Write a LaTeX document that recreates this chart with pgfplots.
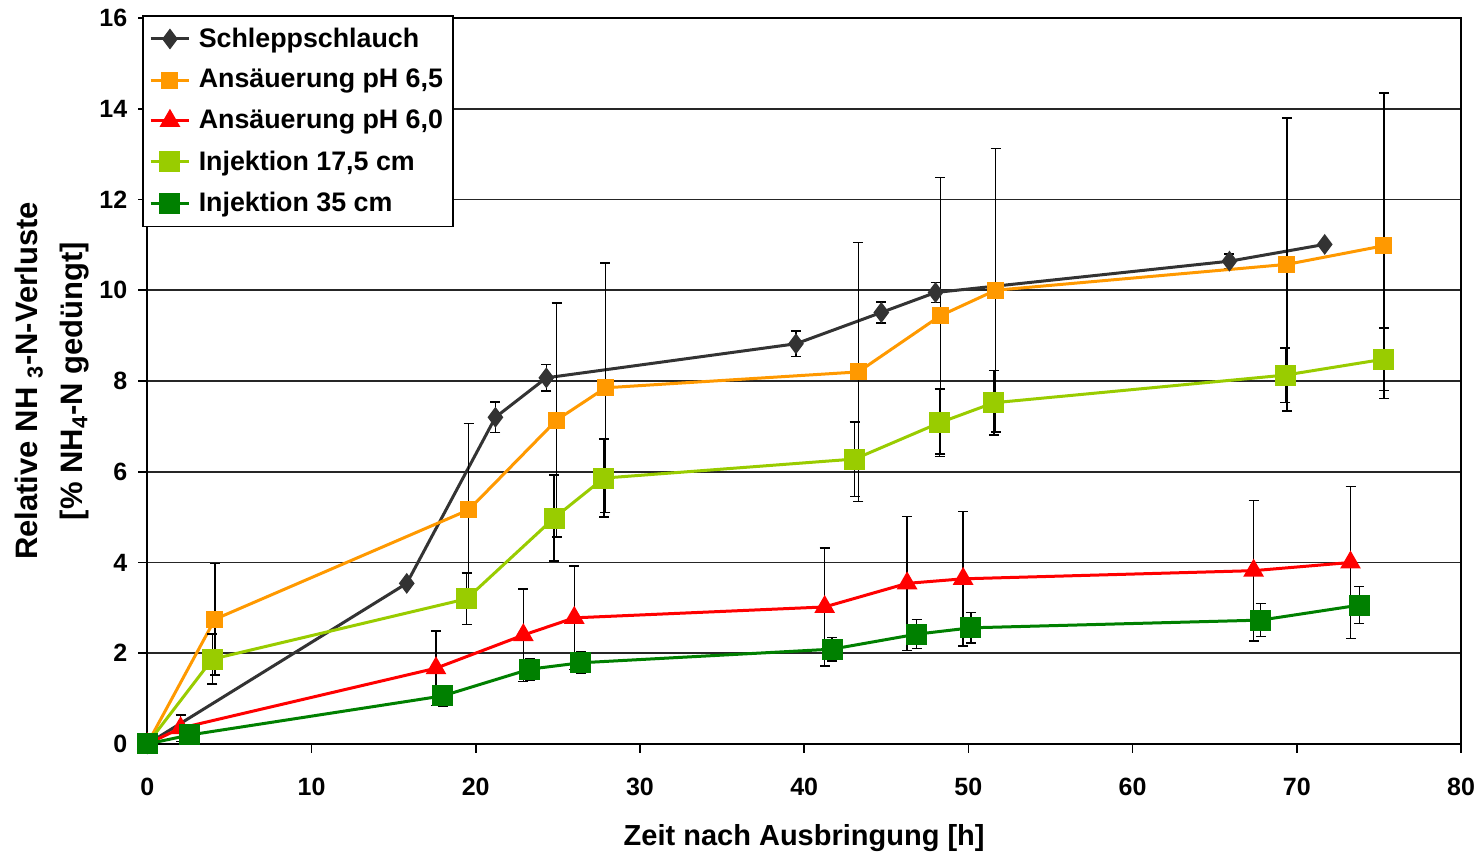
\documentclass[border=0pt]{standalone}
\usepackage{fontspec}
\setmainfont{Liberation Sans}
\usepackage{pgfplots}
\usepackage{pgfplotstable}
\pgfplotsset{compat=1.18}
\usetikzlibrary{calc}
\definecolor{cSchlepp}{HTML}{333333}
\definecolor{cOrange}{HTML}{FF9900}
\definecolor{cRed}{HTML}{FF0000}
\definecolor{cLight}{HTML}{99CC00}
\definecolor{cDark}{HTML}{008000}

\pgfplotstableread{
x y e
0 0 0
15.8 3.54 0
21.2 7.2 0.34
24.3 8.07 0.29
39.5 8.82 0.28
44.7 9.51 0.23
48.0 9.95 0.22
65.9 10.64 0.16
71.7 11.01 0.04
}\schlepp

\pgfplotstableread{
x y e
0 0 0
4.12 2.75 1.23
19.57 5.16 1.9
24.93 7.14 2.58
27.9 7.85 2.75
43.3 8.2 2.85
48.3 9.44 3.05
51.66 10.0 3.12
69.4 10.57 3.23
75.3 10.98 3.37
}\orange

\pgfplotstableread{
x y e
0 0 0
2.03 0.35 0.29
17.58 1.67 0.82
22.9 2.4 1.02
26.0 2.78 1.14
41.25 3.02 1.3
46.27 3.54 1.48
49.68 3.64 1.48
67.37 3.82 1.55
73.27 4.0 1.68
}\red

\pgfplotstableread{
x y e
0 0 0
3.96 1.87 0.55
19.45 3.2 0.57
24.77 4.98 0.95
27.8 5.86 0.86
43.08 6.28 0.82
48.25 7.08 0.74
51.55 7.52 0.71
69.3 8.13 0.6
75.3 8.48 0.69
}\light

\pgfplotstableread{
x y e
0 0 0
2.6 0.2 0
17.99 1.06 0.22
23.3 1.65 0.24
26.4 1.79 0.24
41.7 2.09 0.26
46.85 2.42 0.32
50.15 2.56 0.335
67.8 2.73 0.36
73.8 3.06 0.41
}\dark

\begin{document}
\begin{tikzpicture}
\begin{axis}[
  scale only axis,
  width=656.85pt, height=363pt,
  xmin=0, xmax=80, ymin=0, ymax=16,
  xtick={0,10,...,80}, ytick={0,2,...,16},
  axis line style={black, line width=1pt},
  tick align=outside,
  major tick length=4.5pt,
  tick style={black, line width=0.8pt},
  xtick pos=lower, ytick pos=left,
  ymajorgrids,
  grid style={black!85, line width=0.8pt},
  clip=false,
  /pgf/number format/assume math mode=true,
  ticklabel style={font=\fontsize{12.5}{15}\selectfont\bfseries},
  xticklabel style={anchor=base, yshift=-21.5pt},
  yticklabel style={anchor=east, xshift=-2pt},
  xlabel={Zeit nach Ausbringung [h]},
  ylabel={Relative NH \textsubscript{3}-N-Verluste\\{[}\% NH\textsubscript{4}-N gedüngt{]}},
  xlabel style={at={(axis description cs:0.5,-0.1405)}, anchor=base, font=\fontsize{14.5}{18}\selectfont\bfseries},
  ylabel style={at={(axis description cs:-0.039,0.5)}, anchor=south, align=center, font=\fontsize{15.5}{22.5}\selectfont\bfseries},
  legend style={at={(axis description cs:0,1)}, anchor=north west, xshift=-2.5pt, yshift=1.5pt,
    draw=black, line width=0.8pt, fill=white,
    font=\fontsize{13.4}{16}\selectfont\bfseries,
    row sep=5.5pt, inner xsep=3pt, inner ysep=4pt,
    /tikz/every odd column/.append style={column sep=2pt}},
  legend cell align=left,
  legend image code/.code={\draw[mark repeat=2, mark phase=2, #1] plot coordinates {(0cm,0cm) (0.34cm,0cm) (0.68cm,0cm)};},
  every axis plot/.append style={line width=1.5pt},
  error bars/error bar style={black, line width=0.7pt, solid},
  error bars/error mark options={rotate=90, mark size=2.5pt, black, line width=0.7pt, solid},
]
\addplot[cSchlepp, mark=diamond*, mark size=4pt, mark options={fill=cSchlepp},
  error bars/.cd, y dir=both, y explicit] table[x=x, y=y, y error=e] {\schlepp};
\addlegendentry{Schleppschlauch}
\addplot[cOrange, mark=square*, mark size=3.5pt, mark options={fill=cOrange},
  error bars/.cd, y dir=both, y explicit] table[x=x, y=y, y error=e] {\orange};
\addlegendentry{Ansäuerung pH 6,5}
\addplot[cRed, mark=triangle*, mark size=4.5pt, mark options={fill=cRed},
  error bars/.cd, y dir=both, y explicit] table[x=x, y=y, y error=e] {\red};
\addlegendentry{Ansäuerung pH 6,0}
\addplot[cLight, mark=square*, mark size=4.5pt, mark options={fill=cLight},
  error bars/.cd, y dir=both, y explicit] table[x=x, y=y, y error=e] {\light};
\addlegendentry{Injektion 17,5 cm}
\addplot[cDark, mark=square*, mark size=4.5pt, mark options={fill=cDark},
  error bars/.cd, y dir=both, y explicit] table[x=x, y=y, y error=e] {\dark};
\addlegendentry{Injektion 35 cm}
\end{axis}
\pgfresetboundingbox
\path[use as bounding box] ($(current axis.south west)+(-73.65pt,-54.5pt)$) rectangle ($(current axis.north east)+(7.5pt,9pt)$);
\end{tikzpicture}
\end{document}
